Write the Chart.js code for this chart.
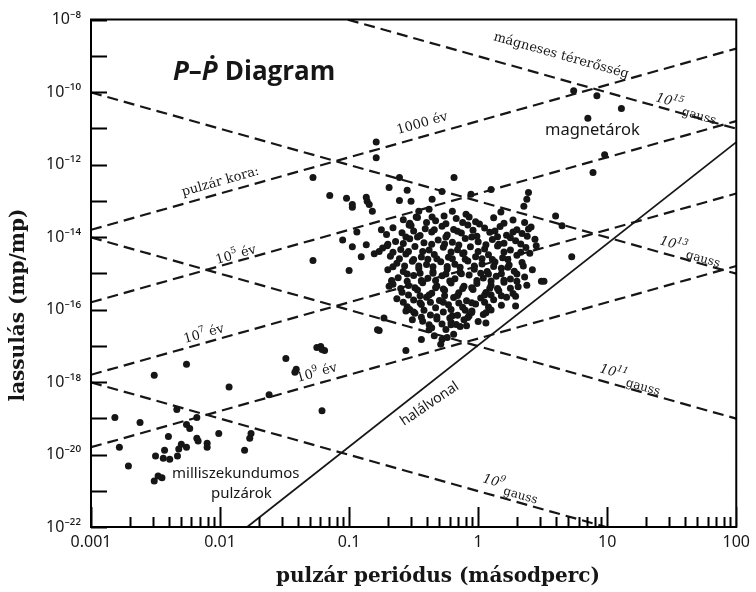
<!DOCTYPE html>
<html>
<head>
<meta charset="utf-8">
<title>P–Ṗ diagram</title>
<script src="https://cdn.jsdelivr.net/npm/chart.js@4.4.1/dist/chart.umd.min.js"></script>
<style>
  html, body { margin: 0; padding: 0; background: #fff; }
  #wrap { width: 756px; height: 592px; }
</style>
</head>
<body>
<div id="wrap"><canvas id="ppdot" width="756" height="592"></canvas></div>
<script>
// Every point / line end is [log10 P (s), log10 Pdot (s/s)].

// axis ticks
const xDecades = [0.001, 0.01, 0.1, 1, 10];
const xMinorSteps = [2, 3, 4, 5, 6, 7, 8, 9];
const xLabelValues = [0.001, 0.01, 0.1, 1, 10, 100];
const xTickLabels = ['0.001', '0.01', '0.1', '1', '10', '100'];
const yExponents = [-22, -21, -20, -19, -18, -17, -16, -15, -14, -13, -12, -11, -10, -9, -8];
const yTickLabels = ['10⁻²²', '', '10⁻²⁰', '', '10⁻¹⁸', '', '10⁻¹⁶', '', '10⁻¹⁴', '', '10⁻¹²', '', '10⁻¹⁰', '', '10⁻⁸'];

// millisecond pulsars (bottom left)
const msPulsars = [
    [-2.26, -17.51], [-2.51, -17.81], [-1.93, -18.14], [-1.49, -17.35], [-1.62, -18.35],
    [-1.41, -17.65], [-1.42, -17.73], [-1.22, -17.02], [-1.21, -17.10], [-1.21, -18.79],
    [-2.335, -18.76], [-2.18, -18.98], [-2.815, -18.98], [-2.62, -19.12], [-2.26, -19.17],
    [-2.235, -19.28], [-2.40, -19.50], [-2.01, -19.42], [-1.76, -19.42], [-1.77, -19.55],
    [-2.18, -19.55], [-2.17, -19.63], [-2.10, -19.69], [-2.10, -19.80], [-2.78, -19.80],
    [-2.30, -19.72], [-2.32, -19.85], [-2.33, -20.04], [-2.26, -19.80], [-2.43, -19.88],
    [-2.50, -20.04], [-2.44, -20.10], [-2.39, -20.13], [-1.81, -19.88], [-2.71, -20.32],
    [-2.48, -20.59], [-2.45, -20.64], [-2.51, -20.73]
];

// ordinary pulsars around the main cloud
const fieldPulsars = [
    [-1.28, -12.36], [-1.15, -12.85], [-1.02, -12.93], [-0.975, -13.10], [-0.975, -13.18],
    [-0.867, -12.90], [-0.86, -13.01], [-0.844, -13.10], [-0.82, -13.29], [-0.79, -11.38],
    [-0.79, -11.81], [-0.69, -12.63], [-0.61, -12.36], [-0.55, -12.71], [-0.61, -12.99],
    [-0.52, -13.01], [-0.48, -13.45], [-0.46, -13.29], [-0.535, -13.67], [-0.75, -13.80],
    [-0.94, -13.86], [-1.05, -14.08], [-0.975, -14.27], [-0.867, -14.21], [-0.906, -14.54],
    [-0.805, -14.46], [-0.767, -14.40], [-0.705, -14.24], [-1.28, -14.65], [-1.0, -14.92],
    [-0.73, -16.23], [-0.767, -16.58], [-0.56, -16.04], [-0.50, -16.07], [-0.51, -16.28],
    [-0.44, -16.83], [-1.25, -17.05], [-1.19, -17.13], [-0.56, -17.13], [-0.69, -15.36],
    [-0.67, -15.22], [-0.78, -16.56], [-0.187, -12.36], [-0.357, -12.96], [-0.28, -12.74],
    [-0.056, -12.82], [0.10, -12.69], [0.39, -12.77], [0.377, -12.96], [0.354, -13.15],
    [0.176, -13.31], [-0.094, -13.37], [-0.07, -13.45], [-0.20, -13.29], [-0.264, -13.42],
    [-0.38, -13.23], [-0.357, -13.45], [0.39, -13.78], [0.45, -14.24], [0.377, -15.33],
    [0.49, -15.22], [0.29, -15.63], [0.29, -15.90], [0.06, -16.09], [0.06, -16.37],
    [-0.048, -16.04], [-0.07, -16.17], [-0.09, -16.45], [-0.20, -16.17], [-0.21, -16.42],
    [-0.28, -16.83], [-0.24, -16.77], [-0.29, -16.96], [-0.38, -16.56], [0.60, -13.42],
    [0.65, -13.69], [0.725, -14.54], [0.51, -15.22]
];

// the dense cloud of ordinary pulsars
const cloudPulsars = [
    [-0.58, -13.52], [-0.47, -13.46], [-0.33, -13.55], [-0.17, -13.49], [-0.02, -13.58], [0.12, -13.47], [0.27, -13.53], [0.36, -13.6],
    [-0.66, -13.74], [-0.52, -13.68], [-0.41, -13.77], [-0.28, -13.70], [-0.19, -13.79], [-0.08, -13.67], [0.05, -13.75], [0.17, -13.71], [0.30, -13.8], [0.41, -13.72],
    [-0.71, -13.93], [-0.59, -13.88], [-0.45, -13.96], [-0.36, -13.86], [-0.24, -13.94], [-0.13, -13.89], [-0.01, -13.98], [0.09, -13.87], [0.22, -13.95], [0.34, -13.9],
    [-0.64, -14.12], [-0.53, -14.05], [-0.42, -14.16], [-0.31, -14.08], [-0.2, -14.14], [-0.1, -14.04], [0.0, -14.13], [0.11, -14.07], [0.2, -14.17], [0.29, -14.1], [0.44, -14.06],
    [-0.74, -14.3], [-0.6, -14.34], [-0.49, -14.26], [-0.38, -14.36], [-0.27, -14.28], [-0.16, -14.35], [-0.06, -14.27], [0.05, -14.33], [0.15, -14.25], [0.25, -14.36], [0.37, -14.29],
    [-0.68, -14.53], [-0.56, -14.47], [-0.44, -14.55], [-0.34, -14.48], [-0.23, -14.56], [-0.12, -14.46], [-0.02, -14.54], [0.08, -14.49], [0.19, -14.57], [0.3, -14.5], [0.4, -14.45],
    [-0.63, -14.72], [-0.51, -14.67], [-0.4, -14.76], [-0.29, -14.68], [-0.18, -14.75], [-0.08, -14.66], [0.03, -14.74], [0.13, -14.69], [0.24, -14.77], [0.34, -14.7],
    [-0.7, -14.9], [-0.58, -14.95], [-0.46, -14.87], [-0.35, -14.96], [-0.24, -14.88], [-0.14, -14.97], [-0.03, -14.89], [0.07, -14.95], [0.18, -14.86], [0.28, -14.94], [0.42, -14.9],
    [-0.62, -15.12], [-0.5, -15.06], [-0.39, -15.14], [-0.28, -15.07], [-0.18, -15.15], [-0.07, -15.05], [0.04, -15.13], [0.14, -15.08], [0.25, -15.16], [0.36, -15.1],
    [-0.66, -15.3], [-0.54, -15.34], [-0.43, -15.26], [-0.32, -15.35], [-0.21, -15.27], [-0.11, -15.36], [-0.01, -15.28], [0.1, -15.33], [0.2, -15.25], [0.31, -15.37],
    [-0.59, -15.52], [-0.47, -15.46], [-0.36, -15.55], [-0.26, -15.47], [-0.15, -15.54], [-0.04, -15.45], [0.06, -15.53], [0.16, -15.48], [0.27, -15.56],
    [-0.63, -15.7], [-0.5, -15.74], [-0.4, -15.66], [-0.3, -15.75], [-0.19, -15.67], [-0.09, -15.76], [0.02, -15.68], [0.12, -15.73], [0.22, -15.66],
    [-0.55, -15.92], [-0.44, -15.86], [-0.33, -15.95], [-0.23, -15.87], [-0.12, -15.94], [-0.02, -15.85], [0.08, -15.93], [0.18, -15.88],
    [-0.49, -16.1], [-0.37, -16.15], [-0.27, -16.07], [-0.16, -16.16], [-0.05, -16.08], [0.04, -16.14],
    [-0.43, -16.32], [-0.32, -16.26], [-0.21, -16.35], [-0.11, -16.28], [0.0, -16.33],
    [-0.36, -16.5], [-0.25, -16.55], [-0.14, -16.47],
    [-0.34, -16.72], [-0.19, -16.68],
    [-0.47, -14.0], [-0.36, -14.2], [-0.25, -14.0], [-0.15, -14.22], [-0.05, -14.0], [0.06, -14.21],
    [-0.43, -14.4], [-0.32, -14.6], [-0.21, -14.41], [-0.1, -14.61], [0.0, -14.4], [0.11, -14.62],
    [-0.46, -14.8], [-0.35, -15.0], [-0.24, -14.81], [-0.13, -15.01], [-0.03, -14.8], [0.08, -15.02],
    [-0.44, -15.2], [-0.33, -15.4], [-0.22, -15.21], [-0.12, -15.42], [-0.01, -15.2], [0.09, -15.41],
    [-0.38, -15.6], [-0.27, -15.8], [-0.16, -15.61], [-0.05, -15.81], [0.05, -15.6],
    [-0.53, -13.62], [-0.40, -13.6], [-0.25, -13.63], [-0.12, -13.6], [0.01, -13.64], [0.2, -13.62],
    [-0.5, -13.83], [-0.34, -13.8], [-0.16, -13.84], [-0.04, -13.81], [0.13, -13.83], [0.27, -13.86],
    [-0.56, -14.0], [0.15, -13.99], [0.25, -14.02], [0.38, -13.98],
    [-0.7, -14.2], [-0.58, -14.18], [-0.26, -14.19], [0.16, -14.2], [0.33, -14.19],
    [-0.66, -14.42], [-0.54, -14.4], [-0.11, -14.43], [0.2, -14.41], [0.33, -14.42],
    [-0.61, -14.6], [-0.5, -14.62], [-0.39, -14.61], [-0.2, -14.6], [0.03, -14.6], [0.23, -14.62],
    [-0.66, -14.82], [-0.57, -14.8], [-0.35, -14.82], [-0.14, -14.83], [0.12, -14.81], [0.23, -14.83], [0.35, -14.8],
    [-0.55, -15.02], [-0.45, -15.0], [-0.25, -15.02], [0.02, -15.0], [0.18, -15.01], [0.3, -15.02],
    [-0.67, -15.2], [-0.55, -15.22], [-0.33, -15.2], [0.1, -15.21], [0.2, -15.19], [0.3, -15.22],
    [-0.6, -15.42], [-0.49, -15.4], [-0.27, -15.43], [-0.05, -15.4], [0.15, -15.42], [0.25, -15.41],
    [-0.54, -15.6], [-0.45, -15.62], [-0.26, -15.62], [0.1, -15.6], [0.18, -15.62],
    [-0.58, -15.8], [-0.45, -15.81], [-0.37, -15.8], [-0.15, -15.82], [0.05, -15.8],
    [-0.53, -16.0], [-0.42, -16.02], [-0.21, -16.0], [-0.1, -16.02], [0.1, -16.01],
    [-0.44, -16.21], [-0.32, -16.2], [-0.22, -16.23], [-0.08, -16.22],
    [-0.38, -16.42], [-0.28, -16.4], [-0.17, -16.41]
];

// magnetars (top right)
const magnetars = [
    [0.74, -9.96], [0.92, -10.10], [1.11, -10.45], [0.85, -10.72], [0.98, -11.73], [0.89, -12.22]
];

// constant magnetic field lines (gauss)
const field15 = [[-1.01, -8.0], [2.0, -11.01]];
const field13 = [[-3.0, -10.01], [2.0, -15.01]];
const field11 = [[-3.0, -14.01], [2.0, -19.01]];
const field9 = [[-3.0, -18.01], [0.99, -22.0]];

// constant age lines (years)
const age3 = [[-3.0, -13.8], [2.0, -8.8]];
const age5 = [[-3.0, -15.8], [2.0, -10.8]];
const age7 = [[-3.0, -17.8], [2.0, -12.8]];
const age9 = [[-3.0, -19.8], [2.0, -14.8]];

// death line
const deathLine = [[-1.79, -22.0], [2.0, -11.38]];

const ink = '#161616';

function toPoints(pairs) {
    return pairs.map(p => ({ x: Math.pow(10, p[0]), y: Math.pow(10, p[1]) }));
}

const xTickValues = [];
xDecades.forEach(d => {
    xTickValues.push(d);
    xMinorSteps.forEach(m => xTickValues.push(d * m));
});
xTickValues.push(100);

function isDecade(v) {
    const l = Math.log10(v);
    return Math.abs(l - Math.round(l)) < 1e-6;
}

function dotSet(pairs) {
    return {
        data: toPoints(pairs),
        pointRadius: 3.5,
        pointHoverRadius: 3.5,
        pointBackgroundColor: ink,
        pointBorderWidth: 0,
        showLine: false
    };
}

function lineSet(pairs, solid) {
    return {
        data: toPoints(pairs),
        showLine: true,
        borderColor: ink,
        borderWidth: solid ? 1.8 : 2.2,
        borderDash: solid ? [] : [11, 6],
        pointRadius: 0,
        fill: false
    };
}

// rotated text made of pieces (for superscripts)
function drawParts(ctx, x, y, angle, parts) {
    ctx.save();
    ctx.translate(x, y);
    ctx.rotate(angle * Math.PI / 180);
    ctx.fillStyle = ink;
    ctx.textBaseline = 'alphabetic';
    ctx.textAlign = 'left';
    let cx = 0;
    parts.forEach(p => {
        ctx.font = p.font;
        ctx.fillText(p.text, cx, p.dy || 0);
        cx += ctx.measureText(p.text).width + (p.gap || 0);
    });
    ctx.restore();
}

const serif = '"DejaVu Serif", serif';
const sans = '"Noto Sans", sans-serif';
const ageAngle = -15.8;
const fieldAngle = 15.8;

function gaussLabel(ctx, x, y, exp) {
    drawParts(ctx, x, y, fieldAngle, [
        { text: '10', font: 'italic 13px ' + serif },
        { text: exp, font: 'italic 9px ' + serif, dy: -6, gap: 1 },
        { text: 'gauss', font: '12px ' + serif, dy: 6 }
    ]);
}

function ageLabel(ctx, x, y, exp) {
    drawParts(ctx, x, y, ageAngle, [
        { text: '10', font: '13px ' + serif },
        { text: exp, font: '9px ' + serif, dy: -6, gap: 4 },
        { text: 'év', font: '13px ' + serif }
    ]);
}

const decorPlugin = {
    id: 'decor',
    beforeDraw(chart) {
        const ctx = chart.ctx;
        ctx.save();
        ctx.fillStyle = '#fff';
        ctx.fillRect(0, 0, chart.width, chart.height);
        ctx.restore();
    },
    afterDraw(chart) {
        const ctx = chart.ctx;
        const a = chart.chartArea;
        const xs = chart.scales.x;
        const ys = chart.scales.y;

        // closed frame and inward ticks, one path each
        ctx.save();
        ctx.setLineDash([]);
        ctx.globalAlpha = 1;
        ctx.globalCompositeOperation = 'source-over';
        ctx.strokeStyle = '#000';
        ctx.lineWidth = 2;
        ctx.beginPath();
        ctx.rect(a.left, a.top, a.right - a.left, a.bottom - a.top);
        xTickValues.forEach(v => {
            const px = Math.round(xs.getPixelForValue(v)) + 0.5;
            const len = isDecade(v) ? 20 : 10;
            ctx.moveTo(px, a.bottom);
            ctx.lineTo(px, a.bottom - len);
        });
        yExponents.forEach(e => {
            const py = Math.round(ys.getPixelForValue(Math.pow(10, e))) + 0.5;
            ctx.moveTo(a.left, py);
            ctx.lineTo(a.left + 16, py);
        });
        ctx.stroke();
        ctx.restore();

        // headline
        drawParts(ctx, 173, 80, 0, [
            { text: 'P', font: 'italic bold 26px "Open Sans", "Noto Sans", sans-serif' },
            { text: '–', font: 'bold 26px "Open Sans", "Noto Sans", sans-serif' },
            { text: 'Ṗ', font: 'italic bold 26px "Noto Sans", sans-serif', gap: 7 },
            { text: 'Diagram', font: 'bold 26px "Open Sans", "Noto Sans", sans-serif' }
        ]);

        // line labels
        drawParts(ctx, 493, 40, fieldAngle, [{ text: 'mágneses térerősség', font: '13px ' + serif }]);
        gaussLabel(ctx, 655, 101, '15');
        gaussLabel(ctx, 659, 244, '13');
        gaussLabel(ctx, 599, 372, '11');
        gaussLabel(ctx, 482, 482, '9');

        drawParts(ctx, 183, 196, ageAngle, [{ text: 'pulzár kora:', font: '13px ' + serif }]);
        drawParts(ctx, 398, 134, ageAngle, [{ text: '1000 év', font: '13px ' + serif }]);
        ageLabel(ctx, 217, 264, '5');
        ageLabel(ctx, 185, 343, '7');
        ageLabel(ctx, 298, 382, '9');

        drawParts(ctx, 404, 426, -34, [{ text: 'halálvonal', font: '14px ' + sans }]);
        drawParts(ctx, 545, 135, 0, [{ text: 'magnetárok', font: '16.5px ' + sans }]);
        drawParts(ctx, 172, 478, 0, [{ text: 'milliszekundumos', font: '15px ' + sans }]);
        drawParts(ctx, 211, 498, 0, [{ text: 'pulzárok', font: '15px ' + sans }]);

        // axis titles
        ctx.save();
        ctx.fillStyle = ink;
        ctx.font = 'bold 20px "DejaVu Serif", serif';
        ctx.textAlign = 'center';
        ctx.textBaseline = 'middle';
        ctx.fillText('pulzár periódus (másodperc)', 438, 577);
        ctx.translate(19, 305);
        ctx.rotate(-Math.PI / 2);
        ctx.fillText('lassulás (mp/mp)', 0, 0);
        ctx.restore();
    }
};

new Chart(document.getElementById('ppdot'), {
    type: 'scatter',
    data: {
        datasets: [
            lineSet(field15), lineSet(field13), lineSet(field11), lineSet(field9),
            lineSet(age3), lineSet(age5), lineSet(age7), lineSet(age9),
            lineSet(deathLine, true),
            dotSet(cloudPulsars), dotSet(fieldPulsars), dotSet(msPulsars), dotSet(magnetars)
        ]
    },
    options: {
        responsive: false,
        devicePixelRatio: 1,
        animation: false,
        layout: { padding: { top: 13, right: 18, left: 0, bottom: 0 } },
        plugins: {
            legend: { display: false },
            tooltip: { enabled: false }
        },
        scales: {
            x: {
                type: 'logarithmic',
                position: 'bottom',
                min: 0.001,
                max: 100,
                afterBuildTicks: s => { s.ticks = xTickValues.map(v => ({ value: v })); },
                afterFit: s => { s.height = 65; },
                grid: { display: false, drawTicks: false },
                border: { display: false },
                ticks: {
                    autoSkip: false,
                    maxRotation: 0,
                    padding: 6,
                    color: ink,
                    font: { family: 'Noto Sans', size: 16 },
                    callback: function(value) {
                        const i = xLabelValues.findIndex(v => Math.abs(Math.log10(v) - Math.log10(value)) < 1e-6);
                        return i >= 0 ? xTickLabels[i] : '';
                    }
                }
            },
            y: {
                type: 'logarithmic',
                min: 1e-22,
                max: 1e-8,
                afterBuildTicks: s => { s.ticks = yExponents.map(e => ({ value: Math.pow(10, e) })); },
                afterFit: s => { s.width = 91; },
                grid: { display: false, drawTicks: false },
                border: { display: false },
                ticks: {
                    autoSkip: false,
                    padding: 10,
                    color: ink,
                    font: { family: 'Noto Sans', size: 16 },
                    callback: function(value) {
                        const i = yExponents.indexOf(Math.round(Math.log10(value)));
                        return i >= 0 ? yTickLabels[i] : '';
                    }
                }
            }
        }
    },
    plugins: [decorPlugin]
});
</script>
</body>
</html>
